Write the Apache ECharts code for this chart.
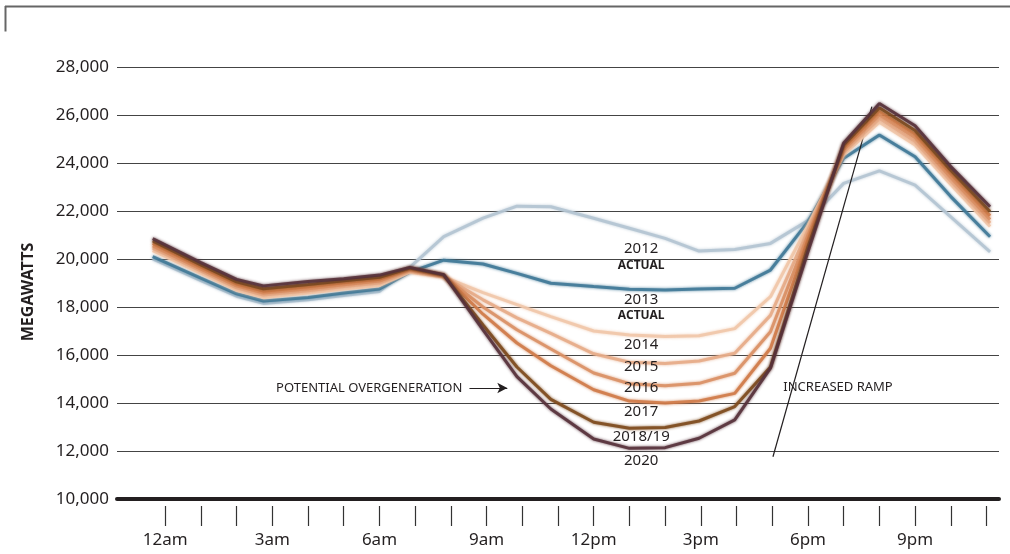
<!DOCTYPE html>
<html>
<head>
<meta charset="utf-8">
<script src="https://cdn.jsdelivr.net/npm/echarts@6/dist/echarts.min.js"></script>
<style>
html,body{margin:0;padding:0;background:#ffffff;}
#chart{width:1010px;height:554px;}
</style>
</head>
<body>
<div id="chart"></div>
<script>
// x positions (hour of day) of each data point
const hours = [-0.35, 1, 2, 2.75, 4, 5, 6, 6.85, 7.8, 8.9, 9.85, 10.8, 12, 13, 14, 14.95, 15.95, 16.95, 18, 19, 20, 21, 22, 23.1];

// axis ticks and labels
const tickHours = [0,1,2,3,4,5,6,7,8,9,10,11,12,13,14,15,16,17,18,19,20,21,22,23];
const labelHours = [0, 3, 6, 9, 12, 15, 18, 21];
const hourLabels = ['12am', '3am', '6am', '9am', '12pm', '3pm', '6pm', '9pm'];
const yMin = 10000, yMax = 28000, yStep = 2000;

// net load, megawatts
const y2012 = [20000, 19100, 18450, 18150, 18300, 18480, 18650, 19650, 20930, 21700, 22200, 22180, 21700, 21280, 20860, 20330, 20400, 20650, 21600, 23150, 23670, 23080, 21760, 20300];
const y2013 = [20100, 19200, 18550, 18250, 18400, 18580, 18750, 19450, 19950, 19790, 19400, 18990, 18850, 18740, 18710, 18750, 18780, 19540, 21550, 24200, 25170, 24260, 22600, 20930];
const y2014 = [20350, 19400, 18700, 18400, 18580, 18750, 18900, 19450, 19250, 18600, 18100, 17600, 17000, 16830, 16770, 16800, 17100, 18430, 21400, 24350, 25700, 24750, 23100, 21350];
const y2015 = [20450, 19500, 18800, 18500, 18680, 18850, 19000, 19500, 19270, 18300, 17550, 16900, 16050, 15700, 15650, 15750, 16070, 17650, 21200, 24450, 25850, 24900, 23250, 21500];
const y2016 = [20550, 19580, 18880, 18580, 18760, 18930, 19080, 19550, 19290, 18000, 17050, 16250, 15250, 14800, 14720, 14820, 15240, 16970, 21000, 24550, 26000, 25050, 23400, 21650];
const y2017 = [20650, 19660, 18960, 18660, 18840, 19010, 19160, 19580, 19310, 17700, 16500, 15550, 14550, 14080, 14000, 14080, 14400, 16280, 20800, 24650, 26150, 25200, 23550, 21800];
const y2018 = [20750, 19750, 19050, 18760, 18940, 19090, 19240, 19620, 19330, 17250, 15500, 14150, 13200, 12950, 12980, 13250, 13850, 15500, 20500, 24750, 26300, 25350, 23700, 21980];
const y2020 = [20850, 19850, 19150, 18880, 19060, 19180, 19330, 19650, 19350, 17050, 15100, 13750, 12500, 12110, 12140, 12530, 13300, 15450, 20300, 24830, 26480, 25550, 23850, 22180];

const seriesNames = ['2012', '2013', '2014', '2015', '2016', '2017', '2018/19', '2020'];
const seriesValues = [y2012, y2013, y2014, y2015, y2016, y2017, y2018, y2020];
const seriesColors = ['#b3c4d1', '#3f7896', '#f0c6a8', '#e6ab87', '#da9064', '#cf7a48', '#7d4a1c', '#553039'];

// annotation anchors in data coordinates [hour, MW]
const yearLabelAnchors = [[13.33, 20430], [13.33, 18320], [13.33, 16420], [13.33, 15510], [13.33, 14650], [13.33, 13650], [13.33, 12600], [13.33, 11580]];
const actualAnchors = [[13.33, 19720], [13.33, 17640]];
const overgenText = [8.32, 14625];
const overgenArrow = [[8.52, 14625], [9.58, 14625]];
const rampText = [17.31, 14655];
const rampLine = [[17.02, 11760], [19.79, 26350]];

const FONT = '"Noto Sans", "Open Sans", sans-serif';
const INK = '#231f20';

const chart = echarts.init(document.getElementById('chart'), null, {renderer: 'canvas'});

const series = seriesNames.map((name, i) => ({
  name: name,
  type: 'line',
  xAxisIndex: 0,
  yAxisIndex: 0,
  data: hours.map((h, k) => [h, seriesValues[i][k]]),
  showSymbol: false,
  symbol: 'none',
  smooth: false,
  z: 3 + i,
  lineStyle: {color: seriesColors[i], width: 3, opacity: 0.88, shadowBlur: 3, shadowColor: seriesColors[i]},
  silent: true
}));

series[series.length - 1].markLine = {
  silent: true,
  animation: false,
  label: {show: false},
  symbol: ['none', 'none'],
  lineStyle: {color: INK, width: 1.2, type: 'solid'},
  emphasis: {disabled: true},
  data: [
    [{coord: rampLine[0], symbol: 'none'}, {coord: rampLine[1], symbol: 'none'}],
    [{coord: overgenArrow[0], symbol: 'none'}, {coord: overgenArrow[1], symbol: 'arrow', symbolSize: [8, 10]}]
  ]
};

const fmt = v => v.toLocaleString('en-US');

chart.setOption({
  animation: false,
  backgroundColor: '#ffffff',
  grid: {left: 117, right: 11, top: 67, bottom: 55, containLabel: false},
  xAxis: [
    {
      type: 'value', min: -1.35, max: 23.35,
      axisLine: {show: true, onZero: false, lineStyle: {color: INK, width: 4}},
      axisTick: {show: false}, axisLabel: {show: false}, splitLine: {show: false}
    },
    {
      type: 'value', min: -1.35, max: 23.35, position: 'bottom', offset: 7,
      axisLine: {show: false},
      axisTick: {show: true, customValues: tickHours, length: 20, inside: false, lineStyle: {color: '#333', width: 1.2}},
      axisLabel: {
        show: true, customValues: labelHours, margin: 26,
        formatter: v => hourLabels[labelHours.indexOf(Math.round(v))] || '',
        fontFamily: FONT, fontSize: 17, color: INK
      },
      splitLine: {show: false}
    }
  ],
  yAxis: {
    type: 'value', min: yMin, max: yMax, interval: yStep,
    axisLine: {show: false}, axisTick: {show: false},
    axisLabel: {formatter: fmt, fontFamily: FONT, fontSize: 17, color: INK, margin: 8},
    splitLine: {show: true, lineStyle: {color: '#444', width: 1}}
  },
  series: series
});

// annotations placed through the chart's own coordinate system
const px = p => chart.convertToPixel({xAxisIndex: 0, yAxisIndex: 0}, p);
const graphics = [];
// frame at the top
graphics.push({type: 'line', silent: true, shape: {x1: 5, y1: 6.5, x2: 1010, y2: 6.5}, style: {stroke: '#666', lineWidth: 2}});
graphics.push({type: 'line', silent: true, shape: {x1: 5.5, y1: 6, x2: 5.5, y2: 31.5}, style: {stroke: '#666', lineWidth: 2}});
// axis title
graphics.push({type: 'text', silent: true, x: 28, y: 292, rotation: Math.PI / 2,
  style: {text: 'MEGAWATTS', fontFamily: FONT, fontSize: 16, fontWeight: 'bold', fill: INK, align: 'center', verticalAlign: 'middle'}});
seriesNames.forEach((n, i) => {
  const p = px(yearLabelAnchors[i]);
  graphics.push({type: 'text', silent: true, x: p[0], y: p[1], z: 20,
    style: {text: n, fontFamily: FONT, fontSize: 15, fill: INK, align: 'center', verticalAlign: 'middle'}});
});
actualAnchors.forEach(a => {
  const p = px(a);
  graphics.push({type: 'text', silent: true, x: p[0], y: p[1], z: 20,
    style: {text: 'ACTUAL', fontFamily: FONT, fontSize: 12, fontWeight: 'bold', fill: INK, align: 'center', verticalAlign: 'middle'}});
});
let p = px(overgenText);
graphics.push({type: 'text', silent: true, x: p[0], y: p[1], z: 20,
  style: {text: 'POTENTIAL OVERGENERATION', fontFamily: FONT, fontSize: 13, fill: INK, align: 'right', verticalAlign: 'middle'}});
p = px(rampText);
graphics.push({type: 'text', silent: true, x: p[0], y: p[1], z: 20,
  style: {text: 'INCREASED RAMP', fontFamily: FONT, fontSize: 13, fill: INK, align: 'left', verticalAlign: 'middle'}});

chart.setOption({graphic: {elements: graphics}});
</script>
</body>
</html>
